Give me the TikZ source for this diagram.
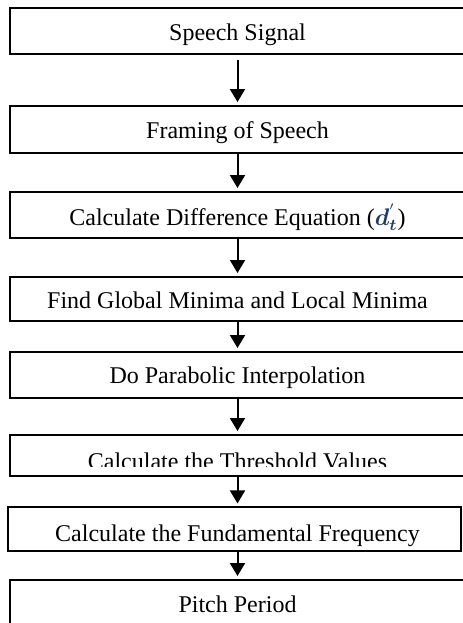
\documentclass[tikz,border=0pt]{standalone}
\usepackage{fontspec}
\setmainfont{Liberation Serif}
\usepackage{bm}
\usetikzlibrary{arrows.meta}
\definecolor{dnavy}{HTML}{1F3A68}
\tikzset{
  stage/.style={draw, line width=1pt, minimum width=227.5pt, inner sep=0pt},
  steptext/.style={anchor=base, font=\fontsize{12}{14}\selectfont, inner sep=0pt},
  flow/.style={-{Triangle[width=7.5pt,length=6.5pt]}, line width=1pt, shorten >=1.5pt}
}

\begin{document}
\begin{tikzpicture}[x=0.5pt,y=-0.5pt]
\useasboundingbox (0,0) rectangle (462,623);
% boxes
\node[stage, minimum height=23pt] (sig) at (237.5,31) {};
\node[stage, minimum height=23.5pt] (frm) at (237.5,129.5) {};
\node[stage, minimum height=23pt] (diff) at (237.5,215) {};
\node[stage, minimum height=22pt] (mins) at (237.5,299) {};
\node[stage, minimum height=23pt] (parab) at (237.5,375) {};
\node[stage, minimum height=20.5pt] (thr) at (237.5,455.5) {};
\node[stage, line width=0.6pt, minimum width=226.5pt, minimum height=22pt] (fund) at (234.5,529) {};
\node[stage, minimum height=30pt] (pitch) at (237.5,610) {};
% texts
\node[steptext] (sigtxt) at (237.5,40) {Speech Signal};
\node[steptext] (frmtxt) at (237.5,138) {Framing of Speech};
\node[steptext] (difftxt) at (237.5,225) {Calculate Difference Equation (\textcolor{dnavy}{$\bm{d}_{\bm{t}}^{'}$})};
\node[steptext] (minstxt) at (237.5,308) {Find Global Minima and Local Minima};
\node[steptext] (parabtxt) at (237.5,383) {Do Parabolic Interpolation};
\begin{scope}
  \clip (0,436) rectangle (470,466);
  \node[steptext] (thrtxt) at (237.5,469) {Calculate the Threshold Values};
\end{scope}
\begin{scope}
  \clip (0,508) rectangle (470,549);
  \node[steptext] (fundtxt) at (237.5,541) {Calculate the Fundamental Frequency};
\end{scope}
\node[steptext] (pitchtxt) at (237.5,612) {Pitch Period};
% arrows
\draw[flow] ([yshift=-2.5pt]sig.south) -- (frm.north);
\draw[flow] (frm.south) -- (diff.north);
\draw[flow] (diff.south) -- (mins.north);
\draw[flow] (mins.south) -- (parab.north);
\draw[flow] (parab.south) -- (thr.north);
\draw[flow] (thr.south) -- (thr.south |- fund.north);
\draw[flow] (thr.south |- fund.south) -- (pitch.north);
\end{tikzpicture}
\end{document}
